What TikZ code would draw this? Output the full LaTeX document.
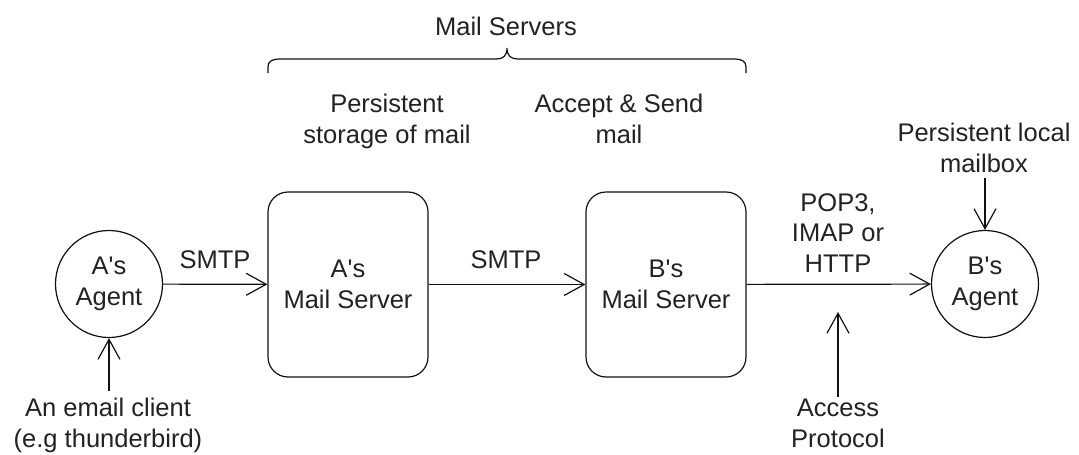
\documentclass[tikz,border=0pt]{standalone}
\usepackage{fontspec}
\setmainfont{Liberation Sans}
\usetikzlibrary{arrows.meta}
\definecolor{txt}{HTML}{222222}
\definecolor{ln}{HTML}{111111}
\begin{document}
\begin{tikzpicture}[x=1pt,y=-1pt,
  every node/.style={font=\fontsize{25.5}{30.5}\selectfont, text=txt},
  lbl/.style={inner sep=0pt, align=center, anchor=base},
  conn/.style={draw=ln, line width=1.2pt, -{Straight Barb[length=20pt,width=22pt]}},
  agent/.style={circle, draw=ln, line width=1.2pt, minimum size=107pt, inner sep=0pt, align=center},
  server/.style={rectangle, rounded corners=20pt, draw=ln, line width=1.2pt, minimum width=160pt, minimum height=185pt, inner sep=0pt, align=center},
  brace/.style={draw=ln, line width=1.2pt}]
\useasboundingbox (0,0) rectangle (1079,455);

% main nodes
\node[agent]  (aagent)  at (109,284)   {A\textquotesingle s\\Agent};
\node[server] (aserver) at (348,284.5) {A\textquotesingle s\\Mail Server};
\node[server] (bserver) at (666,284.5) {B\textquotesingle s\\Mail Server};
\node[agent]  (bagent)  at (985,284)   {B\textquotesingle s\\Agent};

% main connectors
\draw[conn] (aagent) -- (aserver);
\draw[conn] (aserver) -- (bserver);
\draw[conn] (bserver) -- (bagent);

% connector labels (base = baseline of last line)
\node[lbl] (smtp1) at (215,268) {SMTP};
\node[lbl] (smtp2) at (506,268) {SMTP};
\node[lbl] (pop)   at (838,272) {POP3,\\IMAP or\\HTTP};

% annotations
\node[lbl] (email)  at (108,447) {An email client\\(e.g thunderbird)};
\coordinate (emailtop) at (109,391);
\draw[conn] (emailtop) -- (aagent.south);

\node[lbl] (access) at (838,447) {Access\\Protocol};
\coordinate (accesstop) at (838,397);
\coordinate (accesstip) at (838,312);
\draw[conn] (accesstop) -- (accesstip);

\node[lbl] (local) at (984,172) {Persistent local\\mailbox};
\coordinate (localbot) at (985,178);
\draw[conn] (localbot) -- (bagent.north);

\node[lbl] (storage) at (387,143) {Persistent\\storage of mail};
\node[lbl] (accept)  at (619,143) {Accept \& Send\\mail};
\node[lbl] (servers) at (506,35)  {Mail Servers};

% brace
\draw[brace] (268,73) -- (268,67)
  .. controls (268,61) and (272,59) .. (281,59)
  -- (496,59)
  .. controls (503,59) and (507,56) .. (507,48)
  .. controls (507,56) and (511,59) .. (518,59)
  -- (733,59)
  .. controls (742,59) and (746,61) .. (746,67)
  -- (746,73);
\end{tikzpicture}
\end{document}
